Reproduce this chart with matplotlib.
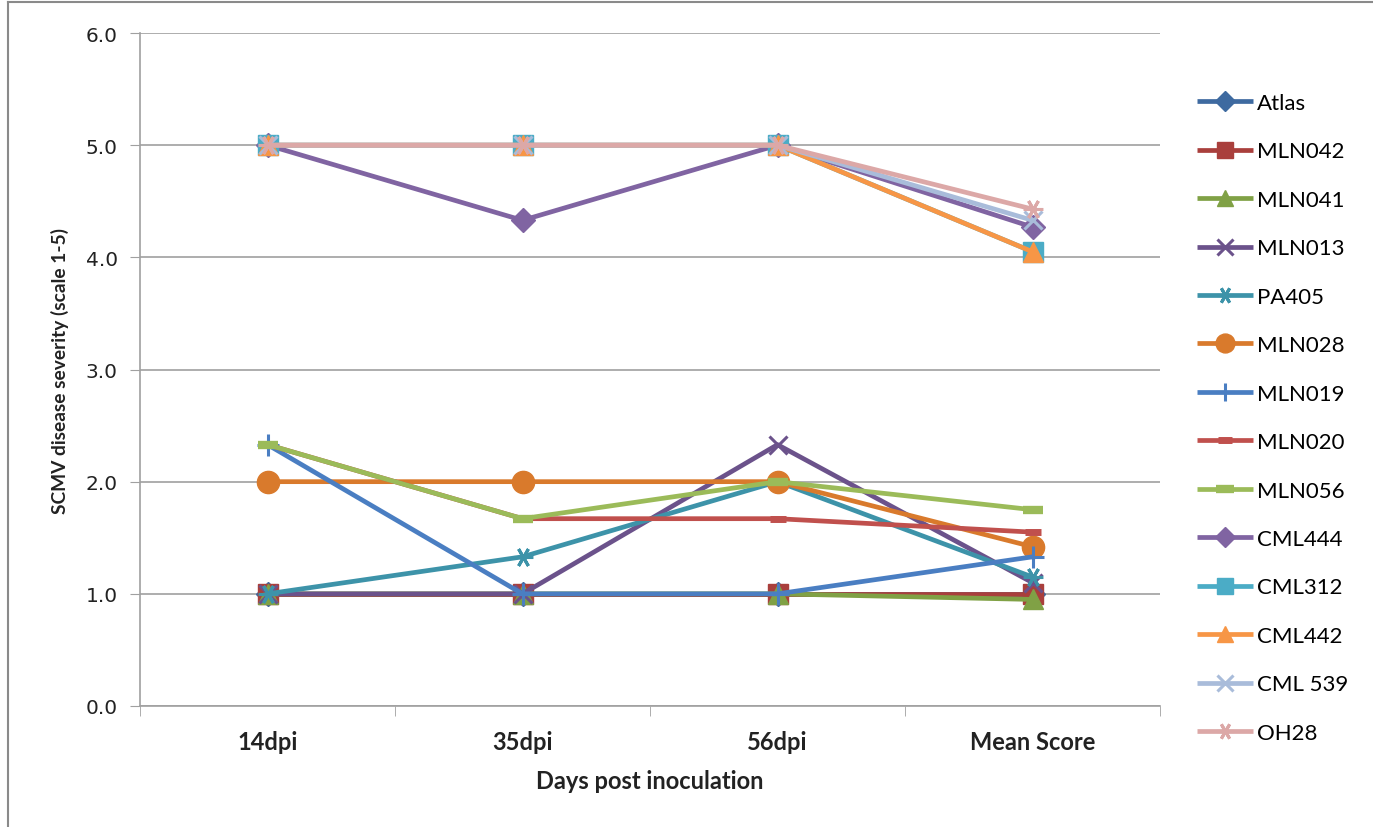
import matplotlib
matplotlib.use("Agg")
import matplotlib.pyplot as plt
from matplotlib.lines import Line2D
from matplotlib.ticker import FixedLocator

categories = ["14dpi", "35dpi", "56dpi", "Mean Score"]
series_names = ["Atlas", "MLN042", "MLN041", "MLN013", "PA405", "MLN028", "MLN019",
                "MLN020", "MLN056", "CML444", "CML312", "CML442", "CML 539", "OH28"]
atlas   = [1.0, 1.0, 1.0, 1.0]
mln042  = [1.0, 1.0, 1.0, 1.0]
mln041  = [1.0, 1.0, 1.0, 0.95]
mln013  = [1.0, 1.0, 2.33, 1.1]
pa405   = [1.0, 1.33, 2.0, 1.15]
mln028  = [2.0, 2.0, 2.0, 1.42]
mln019  = [2.33, 1.0, 1.0, 1.33]
mln020  = [2.33, 1.67, 1.67, 1.55]
mln056  = [2.33, 1.67, 2.0, 1.75]
cml444  = [5.0, 4.33, 5.0, 4.27]
cml312  = [5.0, 5.0, 5.0, 4.05]
cml442  = [5.0, 5.0, 5.0, 4.05]
cml539  = [5.0, 5.0, 5.0, 4.33]
oh28    = [5.0, 5.0, 5.0, 4.43]
values = [atlas, mln042, mln041, mln013, pa405, mln028, mln019,
          mln020, mln056, cml444, cml312, cml442, cml539, oh28]

colors = ["#3E6AA0", "#A93F3C", "#80A145", "#6B528B", "#3D93A9", "#D97A2C", "#4A7EC2",
          "#C0504D", "#9BBB59", "#8064A2", "#4BACC6", "#F79646", "#A9BCDA", "#DCA8A7"]
markers = ["D", "s", "^", "x", (6, 2, 90), "o", "+", "_", "_", "D", "s", "^", "x", (6, 2, 90)]
msizes = [12, 14, 14, 13, 14, 16, 16, 12, 15, 12, 14, 14, 13, 14]
mews = [1, 1, 1, 2.2, 2.2, 1, 2.2, 5, 6, 1, 1, 1, 2.2, 2.2]

fig = plt.figure(figsize=(13.73, 8.28), dpi=100)
fig.add_artist(Line2D([8/1373, 8/1373], [0, 1 - 3/828], transform=fig.transFigure,
                      color="#8A8A8A", linewidth=1.5))
fig.add_artist(Line2D([8/1373, 1], [1 - 3/828, 1 - 3/828], transform=fig.transFigure,
                      color="#8A8A8A", linewidth=1.5))
ax = fig.add_axes([140/1373, 1 - 707/828, 1020/1373, (707 - 34)/828])

x = list(range(len(categories)))
for name, vals, c, m, ms, mew in zip(series_names, values, colors, markers, msizes, mews):
    ax.plot(x, vals, color=c, linewidth=3.4, marker=m, markersize=ms,
            markeredgewidth=mew, markerfacecolor=c, markeredgecolor=c, label=name,
            solid_capstyle="butt", clip_on=False)

ax.set_xlim(-0.5, 3.5)
ax.set_ylim(0, 6)
ax.set_yticks([0, 1, 2, 3, 4, 5, 6])
ax.set_yticklabels([f"{v:.1f}" for v in [0, 1, 2, 3, 4, 5, 6]], fontsize=14.5, color="#222222")
ax.set_xticks(x)
ax.set_xticklabels(categories, fontsize=17, fontweight="bold", color="#222222", family="Lato")
ax.xaxis.set_minor_locator(FixedLocator([-0.5, 0.5, 1.5, 2.5, 3.5]))
ax.tick_params(axis="x", which="major", length=0, pad=17)
ax.tick_params(axis="x", which="minor", length=7, color="#A0A0A0", direction="out")
ax.tick_params(axis="y", length=7, color="#A0A0A0", direction="out", pad=9)
ax.yaxis.grid(True, color="#A0A0A0", linewidth=1.2)
ax.set_axisbelow(True)
for s in ["top", "right"]:
    ax.spines[s].set_visible(False)
for s in ["left", "bottom"]:
    ax.spines[s].set_color("#A0A0A0")
    ax.spines[s].set_linewidth(1.2)

ax.set_xlabel("Days post inoculation", fontsize=17, fontweight="bold", labelpad=12,
              color="#222222", family="Lato")
ax.set_ylabel("SCMV disease severity (scale 1-5)", fontsize=13.8, fontweight="bold",
              color="#222222", family="Lato")
ax.yaxis.set_label_coords(-0.0696, 0.5)

fig.legend(loc="upper left", bbox_to_anchor=(1197/1373, 1 - 94/828), frameon=False,
           prop={"family": "Lato", "size": 16}, labelspacing=1.28, handlelength=2.5,
           handletextpad=0.2, borderpad=0, borderaxespad=0, markerscale=0.85)

fig.savefig("out.png", dpi=100)
